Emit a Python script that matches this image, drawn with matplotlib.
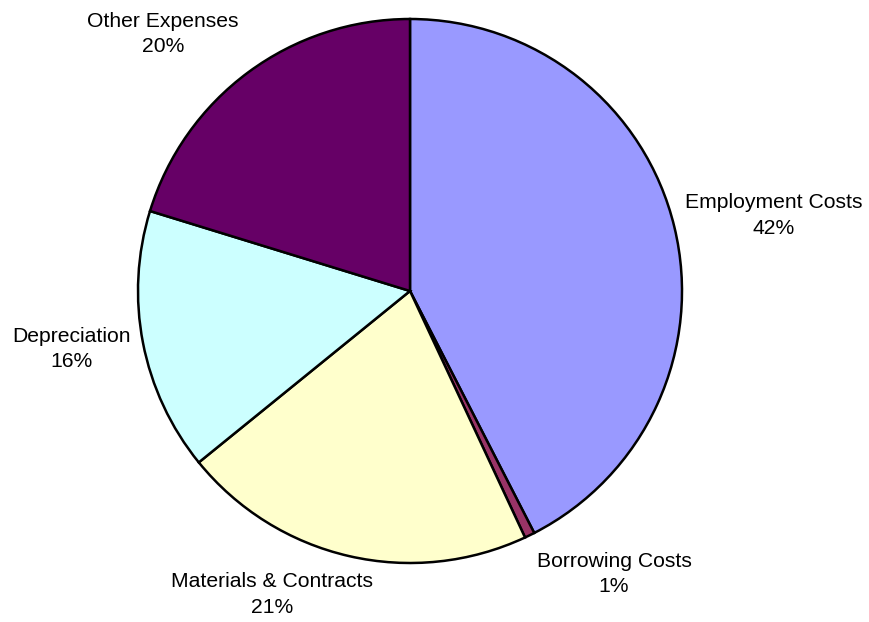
#!/usr/bin/env python
#-*- coding: utf-8 -*-

import matplotlib
matplotlib.use('Agg')
import matplotlib.pyplot as plt

# expense split, in percent of total
categories = ['Employment Costs', 'Borrowing Costs', 'Materials & Contracts',
              'Depreciation', 'Other Expenses']
shares = [42.45, 0.6, 21.1, 15.6, 20.25]
colours = ['#9999FF', '#993366', '#FFFFCC', '#CCFFFF', '#660066']

# where each data label sits, in units of the pie radius
label_xy = [(1.338, 0.278), (0.750, -1.040), (-0.507, -1.116),
            (-1.243, -0.213), (-0.908, 0.945)]

plt.rcParams['font.family'] = ['Liberation Sans', 'DejaVu Sans']

W, H = 870, 622
cx, cy, r = 410, 291, 272

fig = plt.figure(figsize=(W / 100.0, H / 100.0), dpi=100)
fig.patch.set_facecolor('white')
ax = fig.add_axes([(cx - r) / W, (H - cy - r) / H, 2 * r / W, 2 * r / H])

ax.pie(shares, colors=colours, startangle=90, counterclock=False, radius=1,
       wedgeprops=dict(edgecolor='black', linewidth=1.8))

for name, value, (x, y) in zip(categories, shares, label_xy):
    ax.text(x, y, '%s\n%.0f%%' % (name, value), ha='center', va='center',
            multialignment='center', fontsize=15.2, linespacing=1.45,
            color='black')

ax.set_xlim(-1, 1)
ax.set_ylim(-1, 1)
ax.set_aspect('equal')
ax.axis('off')

fig.savefig('out.png', dpi=100)
